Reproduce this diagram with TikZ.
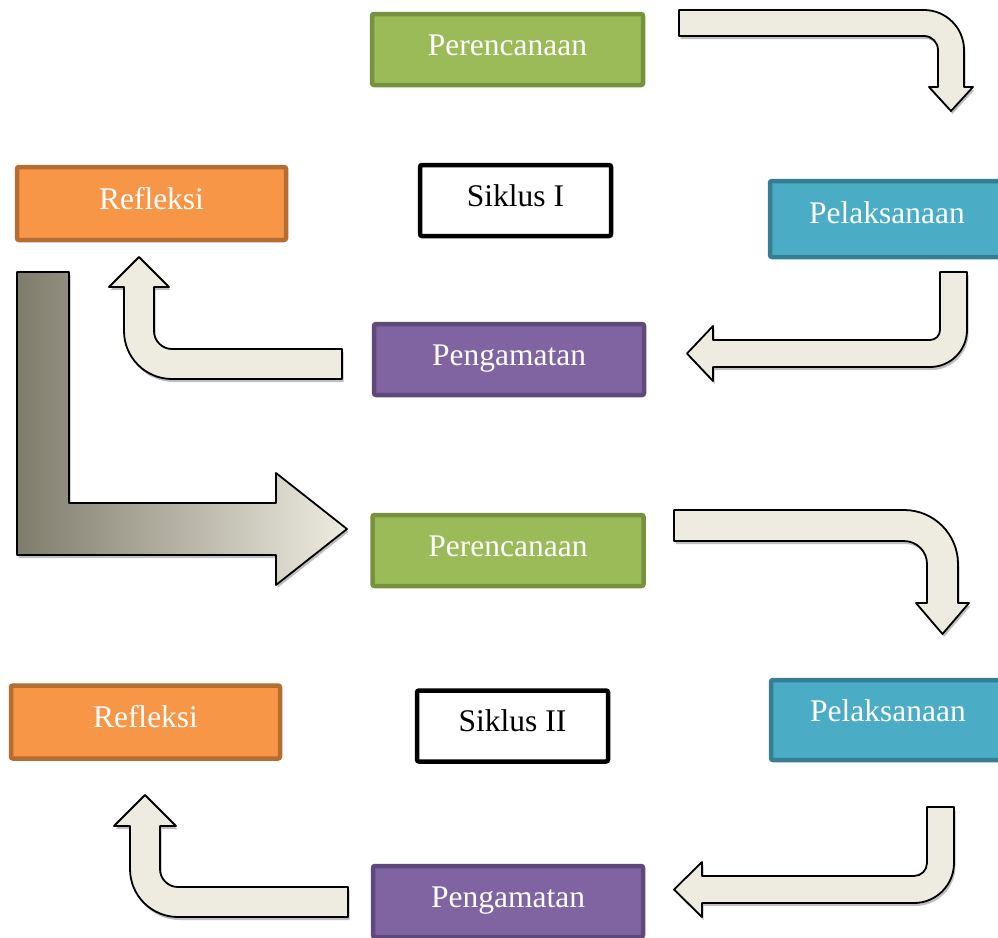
\documentclass[tikz,border=0pt]{standalone}
\usepackage{fontspec}
\setmainfont{Liberation Serif}
\usetikzlibrary{shadows}
\definecolor{plangreen}{RGB}{155,187,89}
\definecolor{planedge}{RGB}{118,146,60}
\definecolor{reflorange}{RGB}{247,150,70}
\definecolor{refledge}{RGB}{182,109,49}
\definecolor{pelblue}{RGB}{75,172,198}
\definecolor{peledge}{RGB}{54,126,146}
\definecolor{pengpurple}{RGB}{128,100,162}
\definecolor{pengedge}{RGB}{95,73,122}
\definecolor{arrfill}{RGB}{238,236,225}
\definecolor{ldark}{RGB}{127,124,108}
\tikzset{
  stage/.style={rounded corners=2pt, line width=4.5pt, text=white,
                font=\fontsize{31.5}{36}\selectfont, text height=22pt, text depth=11pt,
                minimum height=71pt, inner sep=0pt},
  planbox/.style={stage, draw=planedge, fill=plangreen, minimum width=271pt},
  reflbox/.style={stage, draw=refledge, fill=reflorange, minimum width=269pt, minimum height=73pt},
  pelbox/.style={stage, draw=peledge, fill=pelblue, minimum width=234pt, minimum height=76pt, text depth=14pt},
  pengbox/.style={stage, draw=pengedge, fill=pengpurple, minimum width=270pt},
  siklusbox/.style={stage, draw=black, fill=white, text=black, minimum width=191pt},
  barrow/.style={draw=black, line width=1.8pt, fill=arrfill, line join=round,
                 drop shadow={shadow xshift=1.5pt, shadow yshift=-3pt, opacity=0.25, fill=black}},
  bigarrow/.style={barrow, left color=ldark, right color=arrfill},
}

\begin{document}
\begin{tikzpicture}[x=1pt, y=-1pt]
  \useasboundingbox (0,0) rectangle (998,937);

  % siklus I
  \node[planbox] (plan1) at (507.5,49.5) {Perencanaan};
  \node[siklusbox] (siklus1) at (515.5,200.5) {Siklus I};
  \node[reflbox] (refl1) at (151.5,203.5) {Refleksi};
  \node[pelbox] (pel1) at (887,219) {Pelaksanaan};
  \node[pengbox] (peng1) at (509,359.5) {Pengamatan};

  \draw[barrow] (679,10) -- (924,10) arc[start angle=-90, end angle=0, radius=40]
    -- (964,87) -- (973,87) -- (951,111) -- (929,87) -- (938,87) -- (938,50)
    arc[start angle=0, end angle=-90, radius=14] -- (679,36) -- cycle;
  \draw[barrow] (967,272) -- (967,330) arc[start angle=0, end angle=90, radius=37]
    -- (713,367) -- (713,381) -- (687,353.5) -- (713,326) -- (713,340) -- (930,340)
    arc[start angle=90, end angle=0, radius=10] -- (940,272) -- cycle;
  \draw[barrow] (342,379) -- (172,379) arc[start angle=90, end angle=180, radius=48]
    -- (124,287) -- (109,287) -- (139,257) -- (169,287) -- (154,287) -- (154,331)
    arc[start angle=180, end angle=90, radius=18] -- (342,349) -- cycle;

  % ke siklus II
  \draw[bigarrow] (17,272) -- (69,272) -- (69,503) -- (276,503) -- (276,473)
    -- (347,529) -- (276,585) -- (276,555) -- (17,555) -- cycle;

  % siklus II
  \node[planbox] (plan2) at (508,550.5) {Perencanaan};
  \node[reflbox] (refl2) at (145.5,722) {Refleksi};
  \node[siklusbox] (siklus2) at (512.5,726) {Siklus II};
  \node[pelbox, minimum height=80pt, text depth=20pt] (pel2) at (888,720) {Pelaksanaan};
  \node[pengbox] (peng2) at (508,901.5) {Pengamatan};

  \draw[barrow] (674,510) -- (904,510) arc[start angle=-90, end angle=0, radius=54]
    -- (958,603) -- (969,603) -- (942.5,634) -- (916,603) -- (927,603) -- (927,564)
    arc[start angle=0, end angle=-90, radius=23] -- (674,541) -- cycle;
  \draw[barrow] (954,807) -- (954,863) arc[start angle=0, end angle=90, radius=40]
    -- (702,903) -- (702,917) -- (674,889.5) -- (702,862) -- (702,876) -- (914,876)
    arc[start angle=90, end angle=0, radius=13] -- (927,807) -- cycle;
  \draw[barrow] (348,917) -- (178,917) arc[start angle=90, end angle=180, radius=48]
    -- (130,826) -- (114,826) -- (145,795) -- (176,826) -- (160,826) -- (160,869)
    arc[start angle=180, end angle=90, radius=18] -- (348,887) -- cycle;
\end{tikzpicture}
\end{document}
